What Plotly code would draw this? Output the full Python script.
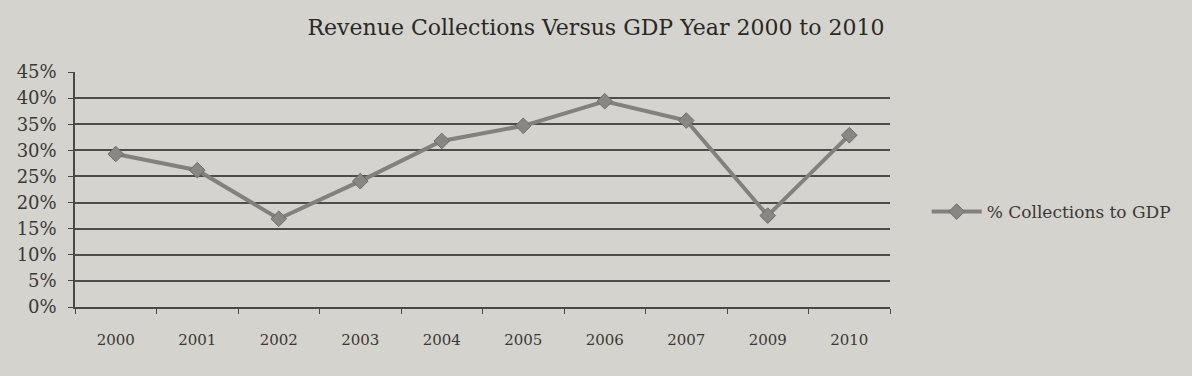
import plotly.graph_objects as go

years = ["2000", "2001", "2002", "2003", "2004", "2005", "2006", "2007", "2009", "2010"]
pct_collections = [29.3, 26.2, 16.9, 24.1, 31.8, 34.7, 39.4, 35.7, 17.5, 32.9]
y_ticks = [0, 5, 10, 15, 20, 25, 30, 35, 40, 45]
y_labels = [f"{v}%" for v in y_ticks]

bg = "#d5d3ce"
font_family = "DejaVu Serif, Liberation Serif, serif"

fig = go.Figure()
fig.add_trace(go.Scatter(
    x=years, y=pct_collections, mode="lines+markers",
    name="% Collections to GDP",
    line=dict(color="#83807e", width=4),
    marker=dict(symbol="diamond", size=12, color="#8a8684",
                line=dict(color="#6e6a68", width=1)),
))

fig.update_layout(
    width=1192, height=376,
    paper_bgcolor=bg, plot_bgcolor=bg,
    margin=dict(l=75, r=302, t=72, b=69),
    font=dict(family=font_family, color="#3a3836", size=15),
    title=dict(text="Revenue Collections Versus GDP Year 2000 to 2010",
               x=(596 - 75) / 815, xref="paper", xanchor="center",
               y=1 - 27 / 376, yanchor="middle",
               font=dict(size=22, family=font_family, color="#2a2826")),
    showlegend=True,
    legend=dict(x=1.045, xanchor="left", y=0.404, yanchor="middle",
                bgcolor="rgba(0,0,0,0)", font=dict(size=17), itemwidth=50),
)

fig.update_xaxes(
    type="category", tickson="boundaries", range=[-0.5, 9.5],
    showgrid=False, showline=True, linecolor="#4a4846", linewidth=1.5,
    ticks="outside", ticklen=5, tickcolor="#4a4846",
    ticklabelstandoff=18, tickfont=dict(size=15),
)
fig.update_yaxes(
    range=[0, 45], tickvals=y_ticks, ticktext=y_labels,
    showgrid=True, gridcolor="#4e4c4a", gridwidth=1.5,
    showline=True, linecolor="#4a4846", linewidth=1.5,
    ticks="outside", ticklen=5, tickcolor="#4a4846",
    ticklabelstandoff=8, tickfont=dict(size=18),
    zeroline=False,
)

fig.write_html("out.html", config={"displayModeBar": False},
               post_script="document.body.style.margin='0';document.body.style.background='%s';" % bg)
